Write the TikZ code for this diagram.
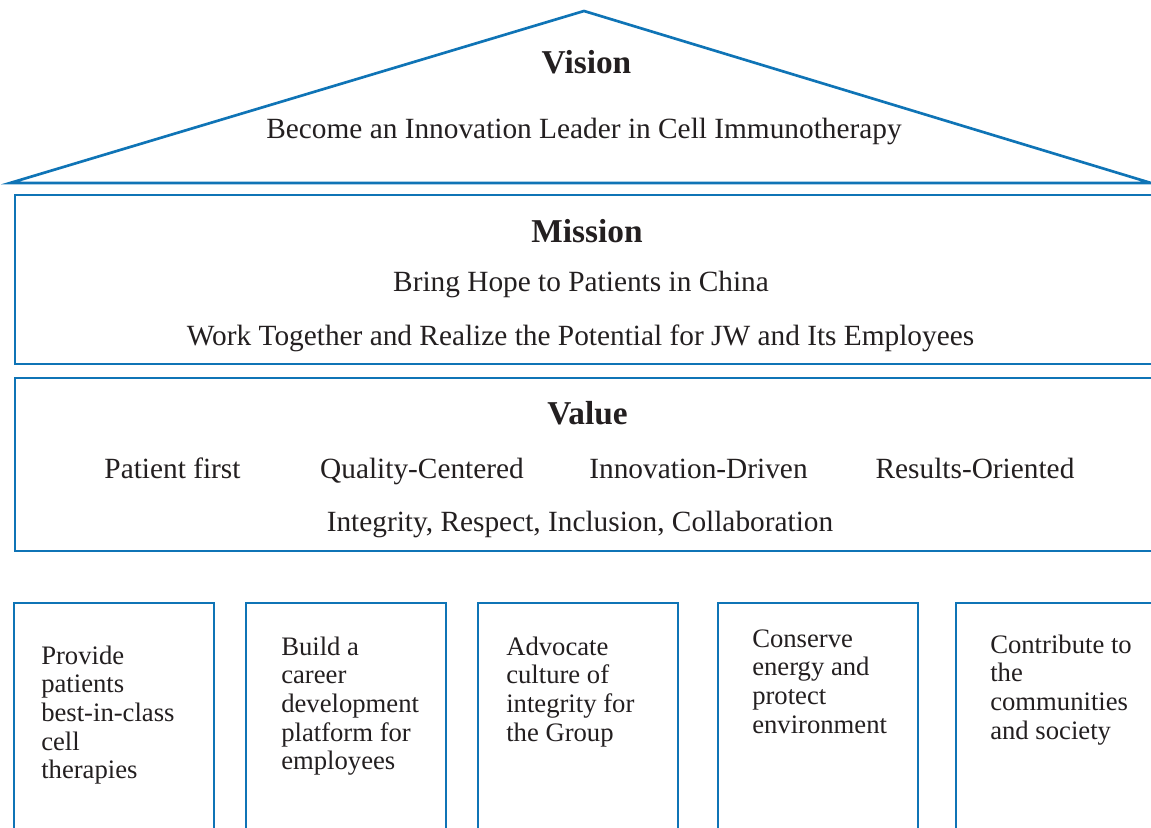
\documentclass[tikz,border=0pt]{standalone}
\usepackage{fontspec}
\setmainfont{Liberation Serif}
\definecolor{frame}{HTML}{0F74B6}
\definecolor{ink}{HTML}{231F20}
\begin{document}
\begin{tikzpicture}[x=0.75pt,y=-0.75pt,
  frameline/.style={draw=frame, line width=2pt, line join=miter},
  title/.style={font=\fontsize{25}{30}\selectfont\bfseries, text=ink, anchor=base, inner sep=0pt},
  body/.style={font=\fontsize{22}{26}\selectfont, text=ink, anchor=base, inner sep=0pt},
  pillar/.style={font=\fontsize{20}{21.5}\selectfont, text=ink, anchor=base west, inner sep=0pt, align=flush left, text width=140pt}]
\useasboundingbox (0,0) rectangle (1151,827);
\clip (0,0) rectangle (1151,827);
\fill[white] (0,0) rectangle (1151,827);
% roof
\draw[frameline] (584,11) -- (1151,183) -- (10,183) -- cycle;
% mission and value bands
\draw[frameline] (15,195) rectangle (1170,364);
\draw[frameline] (15,378) rectangle (1170,551);
% pillars
\draw[frameline] (14,603) rectangle (214,850);
\draw[frameline] (246,603) rectangle (446,850);
\draw[frameline] (478,603) rectangle (678,850);
\draw[frameline] (718,603) rectangle (918,850);
\draw[frameline] (956,603) rectangle (1170,850);
% texts
\node[title] (vision) at (586.5,74) {Vision};
\node[body] (visiontxt) at (584,139) {Become an Innovation Leader in Cell Immunotherapy};
\node[title] (mission) at (587,243) {Mission};
\node[body] (mission1) at (581,291) {Bring Hope to Patients in China};
\node[body] (mission2) at (580.5,345) {Work Together and Realize the Potential for JW and Its Employees};
\node[title] (value) at (587.5,424) {Value};
\node[body] (v1) at (172.5,478) {Patient first};
\node[body] (v2) at (422,478) {Quality-Centered};
\node[body] (v3) at (698.5,478) {Innovation-Driven};
\node[body] (v4) at (975,478) {Results-Oriented};
\node[body] (v5) at (580,531) {Integrity, Respect, Inclusion, Collaboration};
\node[pillar] (p1) at (41,664) {Provide\\patients\\best-in-class\\cell\\therapies};
\node[pillar] (p2) at (281,655) {Build a\\career\\development\\platform for\\employees};
\node[pillar] (p3) at (506,655) {Advocate\\culture of\\integrity for\\the Group};
\node[pillar] (p4) at (752,647) {Conserve\\energy and\\protect\\environment};
\node[pillar] (p5) at (990,653) {Contribute to\\the\\communities\\and society};
\end{tikzpicture}
\end{document}
